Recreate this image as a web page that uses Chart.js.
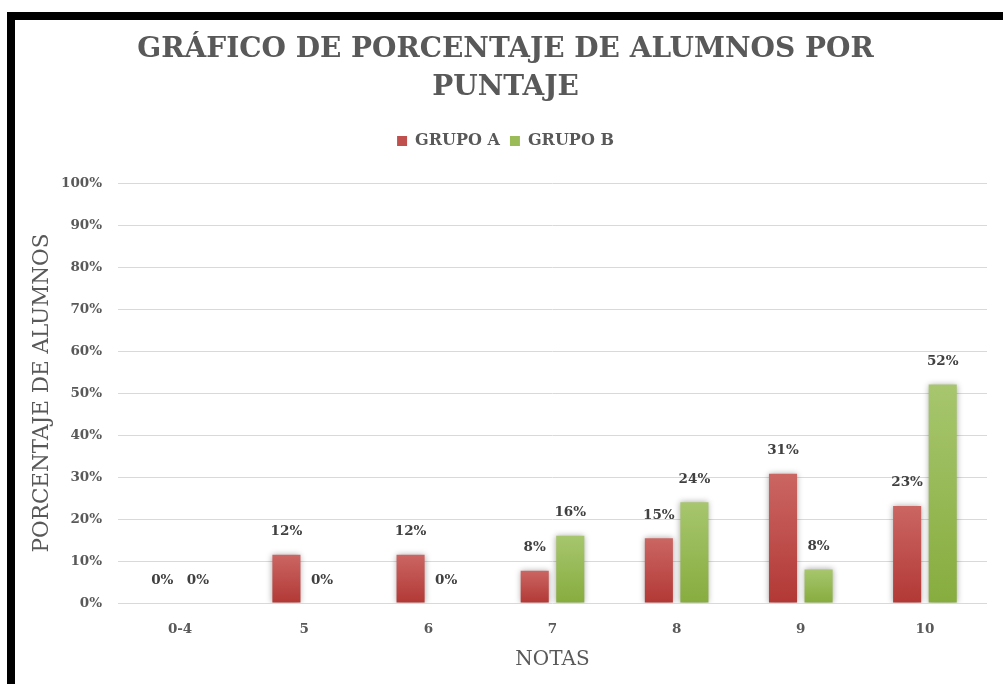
<!DOCTYPE html>
<html><head><meta charset="utf-8">
<script src="https://cdn.jsdelivr.net/npm/chart.js@4.4.0/dist/chart.umd.min.js"></script>
<style>
html,body{margin:0;padding:0;background:#fff;}
#wrap{position:relative;width:1003px;height:684px;overflow:hidden;background:#fff;}
canvas{position:absolute;left:0;top:0;}
#bt{position:absolute;left:7px;top:12px;width:996px;height:8px;background:#000;}
#bl{position:absolute;left:7px;top:12px;width:8px;height:672px;background:#000;}
</style></head><body>
<div id="wrap"><canvas id="c" width="1003" height="684"></canvas><div id="bt"></div><div id="bl"></div></div>
<script>
const categories = ['0-4', '5', '6', '7', '8', '9', '10'];
const grupoA = [0, 11.5, 11.5, 7.7, 15.4, 30.8, 23.1];
const grupoB = [0, 0, 0, 16, 24, 8, 52];
const yTickValues = [0, 10, 20, 30, 40, 50, 60, 70, 80, 90, 100];
const yTickLabels = ['0%', '10%', '20%', '30%', '40%', '50%', '60%', '70%', '80%', '90%', '100%'];
const seriesNames = ['GRUPO A', 'GRUPO B'];
const titleLines = ['GRÁFICO DE PORCENTAJE DE ALUMNOS POR', 'PUNTAJE'];

const FONT = "'DejaVu Serif', 'Liberation Serif', serif";
const GRAY = '#595959';

function grad(top, bottom, flat) {
  return function (ctx) {
    const chart = ctx.chart;
    const y = chart.scales && chart.scales.y;
    if (ctx.type !== 'data' || !y) return flat;
    const y0 = y.getPixelForValue(0), y1 = y.getPixelForValue(ctx.raw);
    if (!isFinite(y0) || !isFinite(y1) || Math.abs(y0 - y1) < 1) return flat;
    const g = chart.ctx.createLinearGradient(0, y1, 0, y0);
    g.addColorStop(0, top);
    g.addColorStop(1, bottom);
    return g;
  };
}

const barDeco = {
  id: 'barDeco',
  beforeInit(chart) {
    const lg = chart.legend;
    if (lg) {
      const orig = lg.fit.bind(lg);
      lg.fit = function () { orig(); this.height += 24; };
    }
  },
  beforeDatasetsDraw(chart) {
    const c = chart.ctx;
    c.save();
    c.shadowColor = 'rgba(0,0,0,0.35)';
    c.shadowBlur = 6;
    c.shadowOffsetX = 0;
    c.shadowOffsetY = 0;
  },
  afterDatasetsDraw(chart) {
    const c = chart.ctx;
    c.restore();
    c.save();
    c.font = "bold 13.5px " + FONT;
    c.fillStyle = '#404040';
    c.textAlign = 'center';
    c.textBaseline = 'middle';
    chart.data.datasets.forEach((ds, i) => {
      const meta = chart.getDatasetMeta(i);
      meta.data.forEach((el, j) => {
        c.fillText(Math.round(ds.data[j]) + '%', el.x, el.y - 23);
      });
    });
    c.restore();
  }
};

new Chart(document.getElementById('c'), {
  type: 'bar',
  data: {
    labels: categories,
    datasets: [
      { label: seriesNames[0], data: grupoA, backgroundColor: grad('#cb6663', '#b23835', '#c0504d'),
        categoryPercentage: 0.573, barPercentage: 0.79 },
      { label: seriesNames[1], data: grupoB, backgroundColor: grad('#a7c66e', '#87ac3e', '#9bbb59'),
        categoryPercentage: 0.573, barPercentage: 0.79 }
    ]
  },
  options: {
    responsive: false,
    animation: false,
    devicePixelRatio: 1,
    layout: { padding: { top: 12, left: 24, right: 16, bottom: 0 } },
    plugins: {
      title: {
        display: true, text: titleLines, color: GRAY,
        font: { family: FONT, size: 28, weight: 'bold', lineHeight: 38 / 28 },
        padding: { top: 19, bottom: 16 }
      },
      legend: {
        display: true, position: 'top',
        labels: { color: GRAY, boxWidth: 10, boxHeight: 10, padding: 10,
          font: { family: FONT, size: 16, weight: 'bold' } }
      },
      tooltip: { enabled: false }
    },
    scales: {
      x: {
        grid: { display: false, drawTicks: false },
        border: { display: false },
        ticks: { color: GRAY, padding: 18, font: { family: FONT, size: 13.5, weight: 'bold' } },
        title: { display: true, text: 'NOTAS', color: GRAY, font: { family: FONT, size: 20 }, padding: { top: 0, bottom: 12 } },
        afterFit(s) { s.height = 81; }
      },
      y: {
        min: 0, max: 100,
        grid: { color: '#d9d9d9', lineWidth: 1, drawTicks: false },
        border: { display: false },
        afterBuildTicks(s) { s.ticks = yTickValues.map(v => ({ value: v })); },
        ticks: { color: GRAY, padding: 16, font: { family: FONT, size: 13.5, weight: 'bold' },
          callback: (v) => yTickLabels[yTickValues.indexOf(v)] },
        title: { display: true, text: 'PORCENTAJE DE ALUMNOS', color: GRAY, font: { family: FONT, size: 21.5 }, padding: { top: 6, bottom: 0 } },
        afterFit(s) { s.width = 94; }
      }
    }
  },
  plugins: [barDeco]
});
</script>
</body></html>
